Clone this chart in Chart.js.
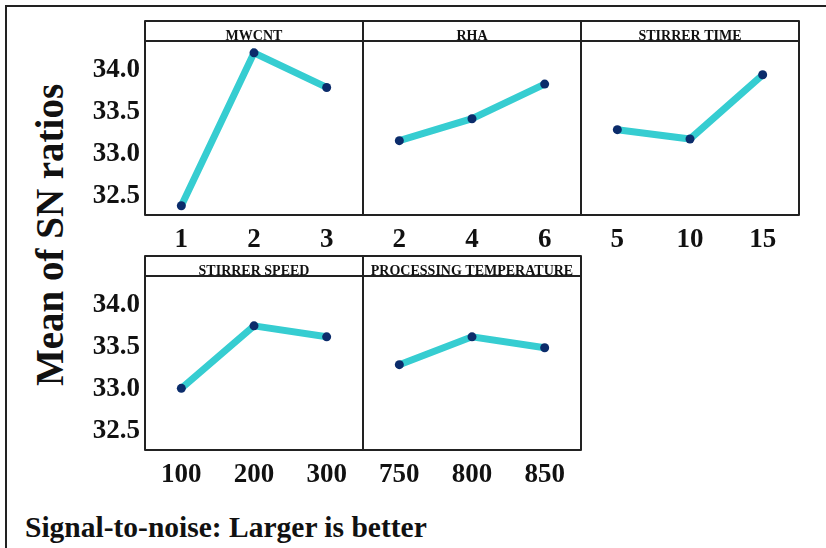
<!DOCTYPE html>
<html>
<head>
<meta charset="utf-8">
<script src="https://cdn.jsdelivr.net/npm/chart.js@4.4.0/dist/chart.umd.min.js"></script>
<style>
    body { margin: 0; background: #fff; }
    #page { position: relative; width: 826px; height: 548px; overflow: hidden; }
    #frame { position: absolute; left: 5px; top: 5px; width: 821px; height: 541px;
             border-top: 2px solid #222; border-left: 2px solid #222; border-bottom: 1px solid #ddd; }
    canvas { position: absolute; }
    .serif { font-family: 'Liberation Serif', 'Times New Roman', serif; font-weight: bold; color: #111; }
    #ytitle { position: absolute; left: 49px; top: 235px; font-size: 39px; line-height: 39px; white-space: nowrap;
              transform: translate(-50%, -50%) rotate(-90deg); }
    #footer { position: absolute; left: 25px; top: 513px; font-size: 29.5px; line-height: 29px; white-space: nowrap; }
</style>
</head>
<body>
<div id="page">
    <div id="frame"></div>
    <canvas id="c1" width="285" height="242" style="left:80px;top:19px"></canvas>
    <canvas id="c2" width="222" height="242" style="left:361px;top:19px"></canvas>
    <canvas id="c3" width="222" height="242" style="left:579px;top:19px"></canvas>
    <canvas id="c4" width="285" height="242" style="left:80px;top:254px"></canvas>
    <canvas id="c5" width="222" height="242" style="left:361px;top:254px"></canvas>
    <div id="ytitle" class="serif">Mean of SN ratios</div>
    <div id="footer" class="serif">Signal-to-noise: Larger is better</div>
</div>
<script>
// factor levels and mean SN ratios
const mwcntLevels = ['1', '2', '3'];
const mwcntSN = [32.39, 34.20, 33.79];
const rhaLevels = ['2', '4', '6'];
const rhaSN = [33.16, 33.42, 33.83];
const timeLevels = ['5', '10', '15'];
const timeSN = [33.29, 33.18, 33.94];
const speedLevels = ['100', '200', '300'];
const speedSN = [33.01, 33.75, 33.62];
const tempLevels = ['750', '800', '850'];
const tempSN = [33.29, 33.62, 33.49];

const yTicks = [32.5, 33.0, 33.5, 34.0];
const yMin = 32.28;
const yMax = 34.34;

const FONT = "'Liberation Serif', 'Times New Roman', serif";
const HEADER_H = 20;

// panel frame + header strip with the factor name
const panelFrame = {
    id: 'panelFrame',
    afterDraw: function(chart, args, opts) {
        const ctx = chart.ctx;
        const a = chart.chartArea;
        ctx.save();
        ctx.strokeStyle = '#222';
        ctx.lineWidth = 2;
        ctx.lineJoin = 'round';
        ctx.strokeRect(a.left, a.top - HEADER_H, a.right - a.left, a.bottom - a.top + HEADER_H);
        ctx.beginPath();
        ctx.moveTo(a.left, a.top);
        ctx.lineTo(a.right, a.top);
        ctx.stroke();
        ctx.font = 'bold 14px ' + FONT;
        ctx.fillStyle = '#111';
        ctx.textAlign = 'center';
        ctx.textBaseline = 'alphabetic';
        ctx.fillText(opts.title, (a.left + a.right) / 2, a.top - 1, a.right - a.left - 4);
        ctx.restore();
    }
};

function makePanel(id, title, levels, values, firstCol) {
    new Chart(document.getElementById(id), {
        type: 'line',
        data: {
            labels: levels,
            datasets: [{
                data: values,
                borderColor: '#36cdd1',
                borderWidth: 7,
                tension: 0,
                pointRadius: 4.5,
                pointBackgroundColor: '#0b2c6b',
                pointBorderWidth: 0
            }]
        },
        options: {
            responsive: false,
            animation: false,
            layout: {
                autoPadding: false,
                padding: { top: HEADER_H + 2, right: 2, left: firstCol ? 0 : 2, bottom: 0 }
            },
            plugins: {
                legend: { display: false },
                tooltip: { enabled: false },
                panelFrame: { title: title }
            },
            scales: {
                x: {
                    type: 'category',
                    offset: true,
                    grid: { display: false, drawTicks: false },
                    border: { display: false },
                    ticks: {
                        color: '#111',
                        padding: 9,
                        maxRotation: 0,
                        autoSkip: false,
                        font: { family: FONT, size: 27, weight: 'bold' }
                    },
                    afterFit: function(scale) { scale.height = 46; }
                },
                y: {
                    display: firstCol,
                    min: yMin,
                    max: yMax,
                    grid: { display: false, drawTicks: false },
                    border: { display: false },
                    afterBuildTicks: function(scale) {
                        scale.ticks = yTicks.map(function(v) { return { value: v }; });
                    },
                    ticks: {
                        color: '#111',
                        padding: 5,
                        font: { family: FONT, size: 27, weight: 'bold' },
                        callback: function(v) { return Number(v).toFixed(1); }
                    },
                    afterFit: function(scale) { scale.width = firstCol ? 65 : 0; }
                }
            }
        },
        plugins: [panelFrame]
    });
}

makePanel('c1', 'MWCNT', mwcntLevels, mwcntSN, true);
makePanel('c2', 'RHA', rhaLevels, rhaSN, false);
makePanel('c3', 'STIRRER TIME', timeLevels, timeSN, false);
makePanel('c4', 'STIRRER SPEED', speedLevels, speedSN, true);
makePanel('c5', 'PROCESSING TEMPERATURE', tempLevels, tempSN, false);
</script>
</body>
</html>
